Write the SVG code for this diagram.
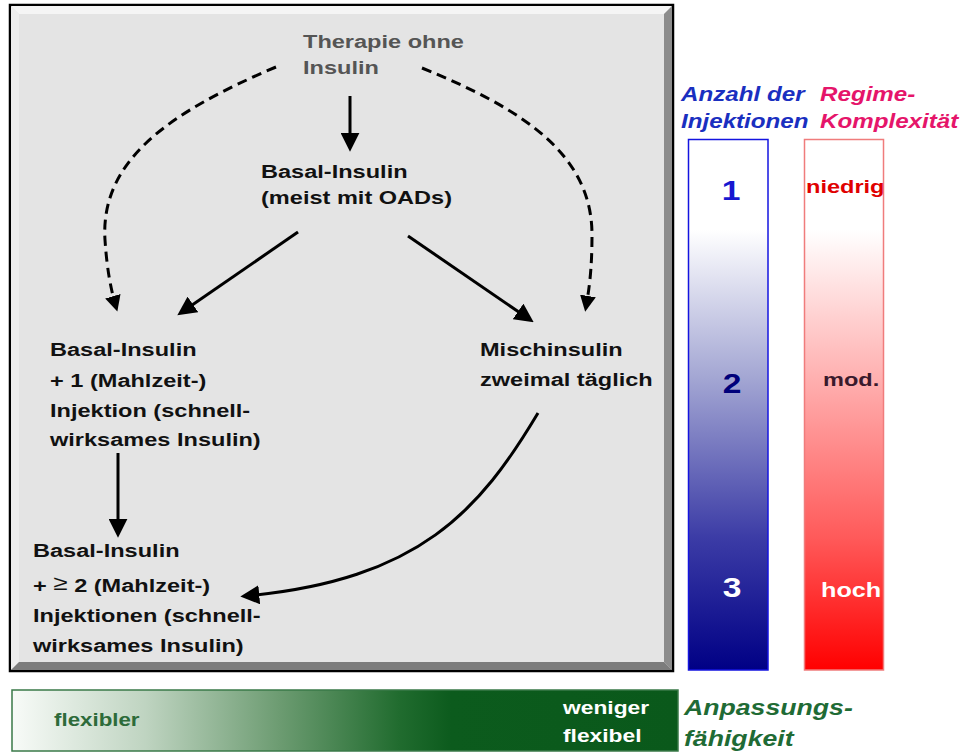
<svg xmlns="http://www.w3.org/2000/svg" width="961" height="753" viewBox="0 0 961 753">
<defs>
<style>
text{font-family:"Liberation Sans",Arial,sans-serif;font-weight:bold;}
.n{font-size:19px;fill:#111;}
.g{font-size:19px;fill:#555;}
.hd{font-size:19.5px;font-style:italic;}
.edge{fill:none;stroke:#000;stroke-width:3;}
.dash{fill:none;stroke:#000;stroke-width:3;stroke-dasharray:10 6;}
</style>
<marker id="ah" viewBox="0 0 10 10" refX="7" refY="5" markerWidth="19" markerHeight="19" markerUnits="userSpaceOnUse" orient="auto">
<path d="M0,0 L10,5 L0,10 z" fill="#000"/>
</marker>
<marker id="ahs" viewBox="0 0 10 10" refX="7" refY="5" markerWidth="16" markerHeight="16" markerUnits="userSpaceOnUse" orient="auto">
<path d="M0,0 L10,5 L0,10 z" fill="#000"/>
</marker>
<linearGradient id="gb" x1="0" y1="0" x2="0" y2="1">
<stop offset="0" stop-color="#ffffff"/>
<stop offset="0.17" stop-color="#ffffff"/>
<stop offset="0.45" stop-color="#a3a6d3"/>
<stop offset="0.75" stop-color="#3c3ca6"/>
<stop offset="1" stop-color="#000085"/>
</linearGradient>
<linearGradient id="gr" x1="0" y1="0" x2="0" y2="1">
<stop offset="0" stop-color="#ffffff"/>
<stop offset="0.17" stop-color="#ffffff"/>
<stop offset="0.45" stop-color="#ffb0b0"/>
<stop offset="0.75" stop-color="#ff5a5a"/>
<stop offset="1" stop-color="#ff0000"/>
</linearGradient>
<linearGradient id="gg" x1="0" y1="0" x2="1" y2="0">
<stop offset="0" stop-color="#f8fbf8"/>
<stop offset="0.2" stop-color="#bfd4c1"/>
<stop offset="0.4" stop-color="#6d9c72"/>
<stop offset="0.58" stop-color="#216c2f"/>
<stop offset="0.66" stop-color="#0c5b1d"/>
<stop offset="1" stop-color="#0a591b"/>
</linearGradient>
</defs>
<rect width="961" height="753" fill="#ffffff"/>

<g id="frame">
<rect x="10" y="5" width="663" height="666" fill="#e4e4e4" stroke="#000" stroke-width="2.5"/>
<polygon points="11,6 672,6 664,14 19,14" fill="#f5f5f5"/>
<polygon points="11,6 19,14 19,662 11,670" fill="#ededed"/>
<polygon points="672,6 672,670 664,662 664,14" fill="#8c8c8c"/>
<polygon points="11,670 672,670 664,662 19,662" fill="#7c7c7c"/>
<rect x="19" y="14" width="645" height="648" fill="#e4e4e4"/>
</g>

<g id="connectors">
<line class="edge" x1="350" y1="96" x2="350" y2="146" marker-end="url(#ah)"/>
<line class="edge" x1="298" y1="232" x2="182" y2="312" marker-end="url(#ah)"/>
<line class="edge" x1="408" y1="236" x2="529" y2="319" marker-end="url(#ah)"/>
<path class="dash" d="M276,67 C170,112 100,160 105,240 C107,270 111,290 116,307" marker-end="url(#ahs)"/>
<path class="dash" d="M422,68 C525,110 592,155 592,235 C592,270 589,290 586,307" marker-end="url(#ahs)"/>
<line class="edge" x1="118" y1="453" x2="118" y2="532" marker-end="url(#ah)"/>
<path class="edge" d="M538,413 C480,510 420,580 246,596" marker-end="url(#ah)"/>
</g>

<g id="n_ohne">
<text class="g" transform="translate(303,48) scale(1.24,1)"><tspan x="0" y="0">Therapie ohne</tspan><tspan x="0" y="26">Insulin</tspan></text>
</g>
<g id="n_basal">
<text class="n" transform="translate(261,178) scale(1.24,1)"><tspan x="0" y="0">Basal-Insulin</tspan><tspan x="0" y="26">(meist mit OADs)</tspan></text>
</g>
<g id="n_basal1">
<text class="n" transform="translate(50,356) scale(1.24,1)"><tspan x="0" y="0">Basal-Insulin</tspan><tspan x="0" y="31">+ 1 (Mahlzeit-)</tspan><tspan x="0" y="61">Injektion (schnell-</tspan><tspan x="0" y="90">wirksames Insulin)</tspan></text>
</g>
<g id="n_misch">
<text class="n" transform="translate(480,356) scale(1.24,1)"><tspan x="0" y="0">Mischinsulin</tspan><tspan x="0" y="30">zweimal täglich</tspan></text>
</g>
<g id="n_basal2">
<text class="n" transform="translate(33,557) scale(1.24,1)"><tspan x="0" y="0">Basal-Insulin</tspan><tspan x="0" y="35">+ <tspan font-weight="normal" font-size="21" dy="-2">≥</tspan><tspan dy="2"> 2 (Mahlzeit-)</tspan></tspan><tspan x="0" y="65">Injektionen (schnell-</tspan><tspan x="0" y="95">wirksames Insulin)</tspan></text>
</g>

<g id="scale_injektionen">
<text class="hd" fill="#1a2fc0" transform="translate(681,101) scale(1.24,1)"><tspan x="0" y="0">Anzahl der</tspan><tspan x="0" y="27">Injektionen</tspan></text>
<rect x="688.5" y="139.5" width="79.5" height="530.5" fill="url(#gb)" stroke="#1414e0" stroke-width="1.5"/>
<text font-size="28" fill="#1717d0" text-anchor="middle" transform="translate(731,200) scale(1.2,1)">1</text>
<text font-size="28" fill="#00007a" text-anchor="middle" transform="translate(732,393) scale(1.2,1)">2</text>
<text font-size="28" fill="#ffffff" text-anchor="middle" transform="translate(732,597) scale(1.2,1)">3</text>
</g>

<g id="scale_komplexitaet">
<text class="hd" fill="#e5156a" transform="translate(820,101) scale(1.24,1)"><tspan x="0" y="0">Regime-</tspan><tspan x="0" y="27">Komplexität</tspan></text>
<rect x="804.5" y="139.5" width="79" height="530.5" fill="url(#gr)" stroke="#f07c7c" stroke-width="1.5"/>
<text font-size="19" fill="#e00000" transform="translate(806,193) scale(1.24,1)">niedrig</text>
<text font-size="19" fill="#3a1a2c" transform="translate(823,386) scale(1.24,1)">mod.</text>
<text font-size="21" fill="#ffffff" transform="translate(821,597) scale(1.2,1)">hoch</text>
</g>

<g id="scale_anpassung">
<rect x="12" y="690" width="666" height="61" fill="url(#gg)" stroke="#3a7a48" stroke-width="1.5"/>
<text font-size="18" fill="#2d6b3a" transform="translate(54,726) scale(1.24,1)">flexibler</text>
<text font-size="19" fill="#ffffff" transform="translate(563,714) scale(1.2,1)"><tspan x="0" y="0">weniger</tspan><tspan x="0" y="28">flexibel</tspan></text>
<text class="hd" fill="#1f6b35" transform="translate(684,715) scale(1.24,1)" style="font-size:21.5px"><tspan x="0" y="0">Anpassungs-</tspan><tspan x="0" y="31">fähigkeit</tspan></text>
</g>
</svg>
